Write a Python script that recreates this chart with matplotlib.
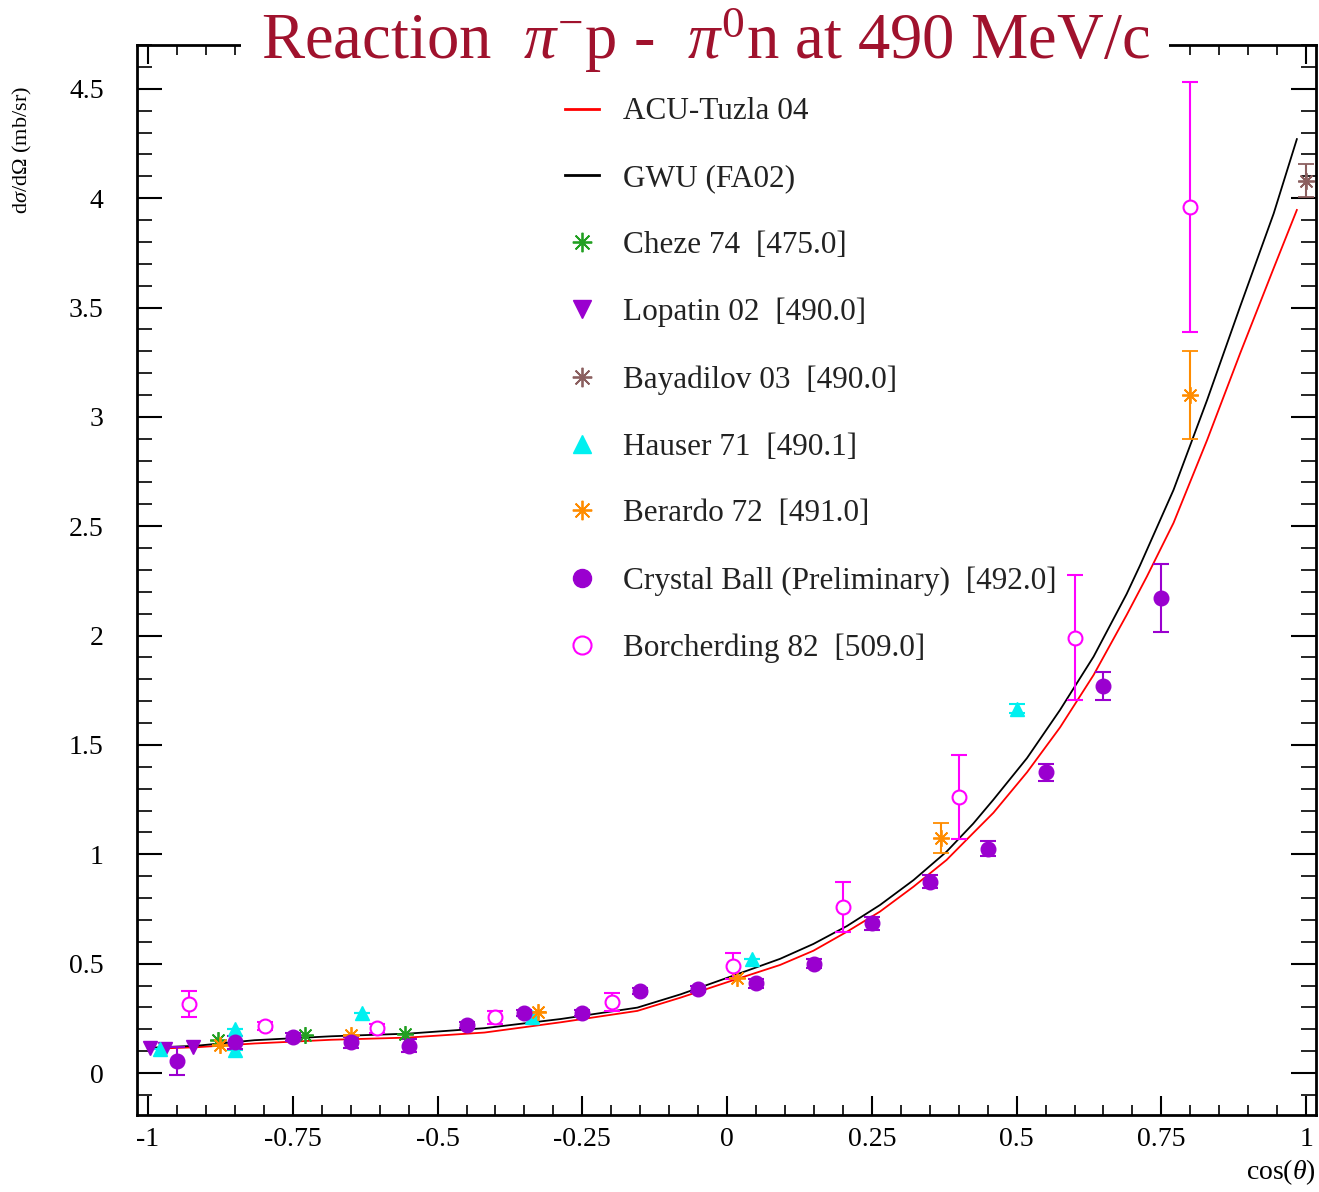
import matplotlib
matplotlib.use("Agg")
from matplotlib import pyplot as plt
from matplotlib.lines import Line2D
from matplotlib.ticker import MultipleLocator

plt.rcParams['font.family'] = ['Liberation Serif', 'DejaVu Serif']
plt.rcParams['mathtext.fontset'] = 'custom'
plt.rcParams['mathtext.rm'] = 'Liberation Serif'
plt.rcParams['mathtext.it'] = 'Liberation Serif:italic'

# model curves
gwu_x = [-1.0, -0.915, -0.816, -0.683, -0.551, -0.419, -0.287, -0.155, -0.08, 0.0,
         0.0915, 0.149, 0.207, 0.264, 0.322, 0.379, 0.425, 0.46, 0.518, 0.575,
         0.633, 0.69, 0.713, 0.771, 0.829, 0.886, 0.944, 0.984]
gwu_fa02 = [0.115, 0.125, 0.15, 0.168, 0.18, 0.205, 0.247, 0.299, 0.36, 0.435,
            0.522, 0.59, 0.672, 0.768, 0.882, 1.012, 1.14, 1.25, 1.44, 1.66,
            1.904, 2.19, 2.32, 2.666, 3.077, 3.504, 3.93, 4.27]
acu_x = [-1.0, -0.915, -0.816, -0.683, -0.551, -0.419, -0.287, -0.155, -0.08, 0.0,
         0.0915, 0.149, 0.207, 0.264, 0.322, 0.379, 0.425, 0.46, 0.518, 0.575,
         0.633, 0.69, 0.725, 0.771, 0.829, 0.886, 0.944, 0.984]
acu_tuzla = [0.11, 0.118, 0.135, 0.152, 0.162, 0.185, 0.232, 0.284, 0.345, 0.415,
             0.494, 0.559, 0.646, 0.738, 0.852, 0.974, 1.097, 1.19, 1.375, 1.58,
             1.82, 2.094, 2.27, 2.515, 2.894, 3.29, 3.68, 3.946]

# data sets
cheze_x = [-0.88, -0.729, -0.556]
cheze_y = [0.15, 0.174, 0.18]

lopatin_x = [-0.997, -0.97, -0.922]
lopatin_y = [0.115, 0.11, 0.12]

bayadilov_x = [1.0]
bayadilov_y = [4.08]
bayadilov_err = [0.075]

hauser_x = [-0.98, -0.85, -0.85, -0.63, -0.337, 0.043, 0.50]
hauser_y = [0.11, 0.20, 0.105, 0.275, 0.255, 0.52, 1.665]
hauser_err = [0, 0, 0, 0, 0, 0, 0.02]

berardo_x = [-0.876, -0.65, -0.326, 0.017, 0.37, 0.80]
berardo_y = [0.128, 0.175, 0.28, 0.435, 1.075, 3.10]
berardo_err = [0, 0, 0, 0, 0.07, 0.20]

cball_x = [-0.95, -0.85, -0.75, -0.65, -0.55, -0.45, -0.35, -0.25, -0.15,
           -0.05, 0.05, 0.15, 0.25, 0.35, 0.45, 0.55, 0.65, 0.75]
cball_y = [0.055, 0.14, 0.165, 0.14, 0.125, 0.22, 0.275, 0.275, 0.375,
           0.385, 0.41, 0.50, 0.685, 0.875, 1.025, 1.375, 1.77, 2.17]
cball_err = [0.065, 0.03, 0.02, 0.025, 0.03, 0.015, 0.015, 0.015, 0.015,
             0.015, 0.02, 0.02, 0.03, 0.03, 0.035, 0.04, 0.065, 0.155]

borch_x = [-0.93, -0.798, -0.605, -0.40, -0.199, 0.01, 0.20, 0.40, 0.60, 0.80]
borch_y = [0.315, 0.215, 0.205, 0.255, 0.325, 0.49, 0.76, 1.262, 1.99, 3.96]
borch_err = [0.06, 0.02, 0.02, 0.03, 0.04, 0.06, 0.115, 0.19, 0.285, 0.57]

C_RED = '#FF0000'
C_GREEN = '#22A022'
C_PURPLE = '#9A00CF'
C_BROWN = '#8B5F5F'
C_CYAN = '#00F0F0'
C_ORANGE = '#FF8C00'
C_MAGENTA = '#FF00FF'
ASTER = (8, 2, 0)

fig = plt.figure(figsize=(13.19, 11.92), dpi=100)
ax = fig.add_axes([0.1039, 0.0646, 0.8938, 0.8976])

ax.plot(acu_x, acu_tuzla, color=C_RED, lw=1.3, zorder=2)
ax.plot(gwu_x, gwu_fa02, color='black', lw=1.3, zorder=2)

eb = dict(ls='none', capsize=6, elinewidth=1.5, capthick=1.5, zorder=3)
ax.errorbar(cheze_x, cheze_y, marker=ASTER, ms=12, mew=1.3, color=C_GREEN, **eb)
ax.errorbar(lopatin_x, lopatin_y, marker='v', ms=10, color=C_PURPLE, **eb)
ax.errorbar(bayadilov_x, bayadilov_y, yerr=bayadilov_err, marker=ASTER, ms=12, mew=1.3,
            color=C_BROWN, **eb)
ax.errorbar(hauser_x, hauser_y, yerr=hauser_err, marker='^', ms=10, color=C_CYAN, **eb)
ax.errorbar(berardo_x, berardo_y, yerr=berardo_err, marker=ASTER, ms=12, mew=1.3,
            color=C_ORANGE, **eb)
ax.errorbar(cball_x, cball_y, yerr=cball_err, marker='o', ms=10.5, color=C_PURPLE, **eb)
ax.errorbar(borch_x, borch_y, yerr=borch_err, marker='o', ms=10, mfc='white', mew=1.5,
            color=C_MAGENTA, **eb)

ax.set_xlim(-1.019, 1.017)
ax.set_ylim(-0.192, 4.70)
ax.xaxis.set_minor_locator(MultipleLocator(0.05))
ax.yaxis.set_minor_locator(MultipleLocator(0.1))
ax.set_xticks([-1, -0.75, -0.5, -0.25, 0, 0.25, 0.5, 0.75, 1])
ax.set_xticklabels(['-1', '-0.75', '-0.5', '-0.25', '0', '0.25', '0.5', '0.75', '1'])
ax.set_yticks([0, 0.5, 1, 1.5, 2, 2.5, 3, 3.5, 4, 4.5])
ax.set_yticklabels(['0', '0.5', '1', '1.5', '2', '2.5', '3', '3.5', '4', '4.5'])
ax.tick_params(axis='x', which='major', direction='in', length=14, width=1.5,
               top=True, labelsize=20, pad=9)
ax.tick_params(axis='x', which='minor', direction='in', length=7, width=1.2, top=True)
ax.tick_params(axis='y', which='major', direction='in', length=18, width=1.5,
               right=True, labelsize=20, pad=24)
ax.tick_params(axis='y', which='minor', direction='in', length=11, width=1.2, right=True)
for s in ax.spines.values():
    s.set_linewidth(2)

fig.text(0.017, 0.874, r'd$\sigma$/d$\Omega$ (mb/sr)', rotation=90,
         ha='center', va='center', fontsize=16)
fig.text(0.998, 0.004, r'cos($\theta$)', ha='right', va='bottom', fontsize=20)

fig.text(0.5345, 0.966, r'Reaction  $\pi^{-}$p -  $\pi^{0}$n at 490 MeV/c',
         ha='center', va='center', fontsize=46.5, color='#A0122D',
         bbox=dict(facecolor='white', edgecolor='none', pad=14))

handles = [
    Line2D([], [], color=C_RED, lw=2),
    Line2D([], [], color='black', lw=2),
    Line2D([], [], ls='none', marker=ASTER, ms=14, mew=1.3, color=C_GREEN),
    Line2D([], [], ls='none', marker='v', ms=13, color=C_PURPLE),
    Line2D([], [], ls='none', marker=ASTER, ms=14, mew=1.3, color=C_BROWN),
    Line2D([], [], ls='none', marker='^', ms=13, color=C_CYAN),
    Line2D([], [], ls='none', marker=ASTER, ms=14, mew=1.3, color=C_ORANGE),
    Line2D([], [], ls='none', marker='o', ms=13, color=C_PURPLE),
    Line2D([], [], ls='none', marker='o', ms=13, mfc='white', mew=1.5, color=C_MAGENTA),
]
labels = [
    'ACU-Tuzla 04',
    'GWU (FA02)',
    'Cheze 74  [475.0]',
    'Lopatin 02  [490.0]',
    'Bayadilov 03  [490.0]',
    'Hauser 71  [490.1]',
    'Berardo 72  [491.0]',
    'Crystal Ball (Preliminary)  [492.0]',
    'Borcherding 82  [509.0]',
]
leg = ax.legend(handles, labels, loc='upper left', bbox_to_anchor=(0.363, 0.951),
                frameon=False, fontsize=22.5, borderaxespad=0, borderpad=0,
                handlelength=1.1, handletextpad=0.75, labelspacing=1.21, numpoints=1)
for t in leg.get_texts():
    t.set_color('#222222')

fig.savefig('out.png', dpi=100)
